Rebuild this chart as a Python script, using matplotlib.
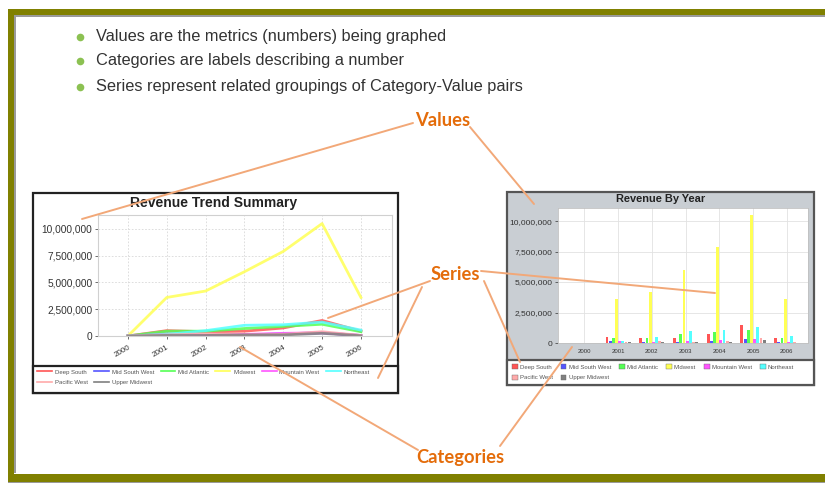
import matplotlib
matplotlib.use('Agg')
import matplotlib.pyplot as plt
from matplotlib.patches import Rectangle
from matplotlib.lines import Line2D
from matplotlib.ticker import FuncFormatter
import numpy as np

W, H = 825, 483

years = ['2000', '2001', '2002', '2003', '2004', '2005', '2006']
regions = ['Deep South', 'Mid South West', 'Mid Atlantic', 'Midwest',
           'Mountain West', 'Northeast', 'Pacific West', 'Upper Midwest']
colors = ['#ff5555', '#5555ff', '#55ff55', '#ffff55',
          '#ff55ff', '#55ffff', '#ffaaaa', '#808080']

deep_south = [0, 500000, 400000, 450000, 750000, 1450000, 450000]
mid_south_west = [0, 200000, 50000, 100000, 200000, 300000, 50000]
mid_atlantic = [0, 450000, 450000, 700000, 900000, 1100000, 400000]
midwest = [0, 3600000, 4200000, 6000000, 7900000, 10500000, 3600000]
mountain_west = [0, 150000, 100000, 150000, 250000, 300000, 50000]
northeast = [0, 150000, 500000, 1000000, 1050000, 1300000, 550000]
pacific_west = [0, 100000, 200000, 100000, 150000, 400000, 50000]
upper_midwest = [0, 50000, 50000, 100000, 100000, 250000, 20000]
series = [deep_south, mid_south_west, mid_atlantic, midwest,
          mountain_west, northeast, pacific_west, upper_midwest]

bullets = ['Values are the metrics (numbers) being graphed',
           'Categories are labels describing a number',
           'Series represent related groupings of Category-Value pairs']


def rect(x0, y0, x1, y1):
    return [x0 / W, 1 - y1 / H, (x1 - x0) / W, (y1 - y0) / H]


fmt = FuncFormatter(lambda v, p: f'{v:,.0f}')
plt.rcParams['font.family'] = ['Liberation Sans', 'DejaVu Sans']

fig = plt.figure(figsize=(W / 100, H / 100), dpi=100)

# background: slide frame + chart boxes
bg = fig.add_axes([0, 0, 1, 1], zorder=0)
bg.set_xlim(0, W)
bg.set_ylim(H, 0)
bg.axis('off')
olive = '#808000'
bg.add_patch(Rectangle((8, 9), W - 8, 6, color=olive, lw=0))
bg.add_patch(Rectangle((8, 9), 6, 473, color=olive, lw=0))
bg.add_patch(Rectangle((8, 474), W - 8, 8, color=olive, lw=0))
bg.add_patch(Rectangle((14, 15), W - 14, 2, color='#9a9a9a', lw=0))
bg.add_patch(Rectangle((14, 15), 2, 458, color='#9a9a9a', lw=0))
bg.add_patch(Rectangle((8, 482), W - 8, 1, color='#9a9a9a', lw=0))

for i, t in enumerate(bullets):
    y = [37, 61, 87][i]
    bg.plot(80, y, 'o', color='#8cc152', ms=5.5, mec='none')
    bg.text(96, y, t, fontsize=11.8, color='#333333', va='center', ha='left')

# left chart box
bg.add_patch(Rectangle((33, 193), 365, 200, fc='white', ec='#222222', lw=1.6))
bg.add_patch(Rectangle((33, 366), 365, 27, fc='white', ec='#222222', lw=1.6))
bg.text(214, 203, 'Revenue Trend Summary', fontsize=10, fontweight='bold',
        ha='center', va='center', color='#222222')

# right chart box
bg.add_patch(Rectangle((507, 192), 307, 193, fc='#c9ced3', ec='#555555', lw=1.6))
bg.add_patch(Rectangle((507, 360), 307, 25, fc='white', ec='#555555', lw=1.6))
bg.text(661, 199, 'Revenue By Year', fontsize=7.9, fontweight='bold',
        ha='center', va='center', color='#222222')

x = np.arange(len(years))

# left: line chart
ax1 = fig.add_axes(rect(98, 215, 392, 336), zorder=1)
for vals, c in zip(series, colors):
    ax1.plot(x, vals, color=c, lw=2, alpha=0.85)
ax1.set_xlim(-0.77, 6.8)
ax1.set_ylim(0, 11300000)
ax1.set_yticks([0, 2500000, 5000000, 7500000, 10000000])
ax1.yaxis.set_major_formatter(fmt)
ax1.set_xticks(x)
ax1.set_xticklabels(years, rotation=30, ha='right', rotation_mode='anchor')
ax1.tick_params(axis='y', labelsize=7.3, length=2, colors='#333333', width=0.5, pad=2)
ax1.tick_params(axis='x', labelsize=5.8, length=2, colors='#333333', width=0.5)
ax1.grid(True, color='#d8d8d8', ls=(0, (2, 2)), lw=0.6)
ax1.set_axisbelow(True)
for s in ax1.spines.values():
    s.set_color('#d0d0d0')
    s.set_linewidth(0.8)

order = [0, 6, 1, 7, 2, 3, 4, 5]
leg1 = fig.add_axes(rect(35, 367, 396, 392), zorder=1)
leg1.axis('off')
handles = [Line2D([], [], color=c, lw=1.2) for c in colors]
leg1.legend([handles[i] for i in order], [regions[i] for i in order],
            ncol=6, loc='upper left', frameon=False, fontsize=4.3,
            handlelength=2.5, handletextpad=0.5, columnspacing=1.0,
            labelspacing=0.9, borderaxespad=0.2, borderpad=0.2,
            labelcolor='#555555')

# right: bar chart
ax2 = fig.add_axes(rect(558, 208, 808, 343), zorder=1)
n = len(series)
slot = 0.094
for i, (vals, c) in enumerate(zip(series, colors)):
    ax2.bar(x + (i - (n - 1) / 2) * slot, vals, width=slot * 0.9, color=c, lw=0)
ax2.set_xlim(-0.78, 6.63)
ax2.set_ylim(0, 11070000)
ax2.set_yticks([0, 2500000, 5000000, 7500000, 10000000])
ax2.yaxis.set_major_formatter(fmt)
ax2.set_xticks(x)
ax2.set_xticklabels(years)
ax2.tick_params(axis='y', labelsize=6, length=2, colors='#333333', width=0.5, pad=2)
ax2.tick_params(axis='x', labelsize=4.3, length=0, colors='#333333', pad=4)
ax2.grid(True, color='#e2e2e2', lw=0.6)
ax2.set_axisbelow(True)
for s in ax2.spines.values():
    s.set_color('#c0c0c0')
    s.set_linewidth(0.6)

leg2 = fig.add_axes(rect(509, 361, 812, 384), zorder=1)
leg2.axis('off')
sq = [Rectangle((0, 0), 1, 1, fc=c, ec='#666666', lw=0.3) for c in colors]
leg2.legend([sq[i] for i in order], [regions[i] for i in order],
            ncol=6, loc='upper left', frameon=False, fontsize=4.3,
            handlelength=0.9, handleheight=0.9, handletextpad=0.4,
            columnspacing=1.35, labelspacing=0.85, borderaxespad=0.2,
            borderpad=0.35, labelcolor='#555555')

# annotation overlay
ov = fig.add_axes([0, 0, 1, 1], zorder=5)
ov.set_xlim(0, W)
ov.set_ylim(H, 0)
ov.axis('off')
ov.patch.set_alpha(0)
lc = '#f2a878'
oc = '#e46c0a'
links = [((413, 123), (82, 219)), ((470, 127), (534, 204)),
         ((430, 281), (328, 318)), ((422, 287), (378, 378)),
         ((481, 271), (715, 293)), ((484, 281), (520, 362)),
         ((418, 450), (240, 347)), ((500, 446), (572, 347))]
for (a, b) in links:
    ov.plot([a[0], b[0]], [a[1], b[1]], color=lc, lw=1.4, solid_capstyle='round')
for label, (tx, ty) in [('Values', (443, 121)), ('Series', (455, 275)),
                        ('Categories', (460, 457))]:
    ov.text(tx, ty, label, fontsize=13.2, fontweight='bold', color=oc,
            ha='center', va='center', family=['Lato', 'DejaVu Sans'])

fig.savefig('out.png', dpi=100)
